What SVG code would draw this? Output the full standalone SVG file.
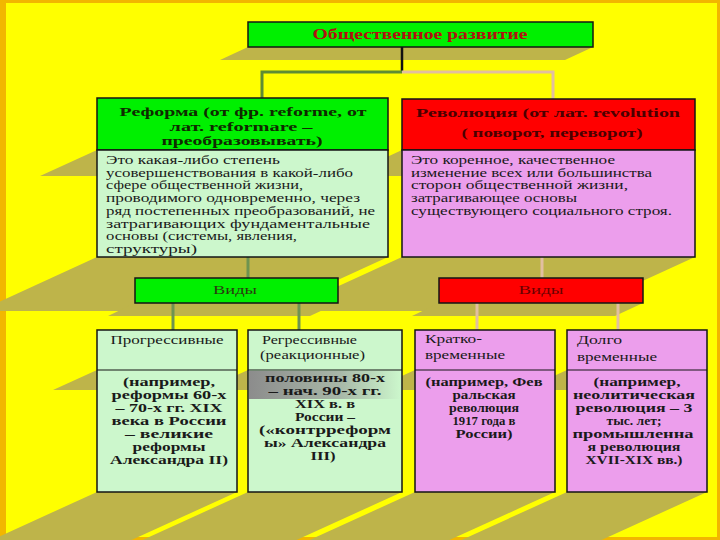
<svg xmlns="http://www.w3.org/2000/svg" width="720" height="540" viewBox="0 0 720 540">
<defs>
<style>
.sh{fill:#BEB44A}
.box{stroke:#151515;stroke-width:1.5}
.g{fill:#00F000}
.r{fill:#FF0000}
.mint{fill:#CCF7CC}
.pink{fill:#EC9EEC}
text{font-family:"Liberation Serif","Times New Roman",serif}
.hd{font-size:13px;font-weight:bold}
.ds{font-size:11.5px;fill:#1a1a1a}
.bd{font-size:11.5px;font-weight:bold;fill:#1a1a1a;text-anchor:middle}
.tp{font-size:12.5px;fill:#1a1a1a}
.cg{stroke:#5E8C34;stroke-width:3;fill:none}
.ct{stroke:#E2BFA0;stroke-width:3;fill:none}
</style>
<linearGradient id="gb" x1="0" y1="0" x2="1" y2="0">
<stop offset="0" stop-color="#8C8C8C"/>
<stop offset="0.6" stop-color="#A8B8A8"/>
<stop offset="1" stop-color="#CCF7CC"/>
</linearGradient>
</defs>
<rect x="0" y="0" width="720" height="540" fill="#FFFF00"/>
<rect x="0" y="0" width="720" height="3" fill="#F2B600"/>
<rect x="0" y="0" width="6" height="540" fill="#F2B600"/>
<rect x="717" y="0" width="3" height="540" fill="#F2B600"/>
<rect x="0" y="537" width="720" height="3" fill="#F2B600"/>

<g id="shadows">
<polygon class="sh" points="248,47 593,47 565,60 220,60"/>
<polygon class="sh" points="97,150 388,150 331,176 40,176"/>
<polygon class="sh" points="402,150 695,150 639,176 346,176"/>
<polygon class="sh" points="97,257 388,257 270,311 -21,311"/>
<polygon class="sh" points="402,257 695,257 577,311 284,311"/>
<polygon class="sh" points="135,303 338,303 310,316 108,316"/>
<polygon class="sh" points="439,303 643,303 615,316 412,316"/>
<polygon class="sh" points="97,370 237,370 193,390 53,390"/>
<polygon class="sh" points="248,370 402,370 358,390 204,390"/>
<polygon class="sh" points="415,370 555,370 511,390 371,390"/>
<polygon class="sh" points="567,370 707,370 663,390 523,390"/>
<polygon class="sh" points="97,492 237,492 103,553 -37,553"/>
<polygon class="sh" points="248,492 402,492 268,553 114,553"/>
<polygon class="sh" points="415,492 555,492 421,553 281,553"/>
<polygon class="sh" points="567,492 707,492 573,553 433,553"/>
</g>

<g id="connectors">
<line x1="402" y1="47" x2="402" y2="72" stroke="#111" stroke-width="2.5"/>
<polyline class="cg" points="402,72 262,72 262,98"/>
<polyline class="ct" points="402,72 553,72 553,99"/>
<line class="cg" x1="248" y1="257" x2="248" y2="278" style="stroke:#6E9450"/>
<line class="ct" x1="542" y1="257" x2="542" y2="278"/>
<line class="cg" x1="173" y1="303" x2="173" y2="330" style="stroke:#6E9450"/>
<line class="cg" x1="299" y1="303" x2="299" y2="330" style="stroke:#6E9450"/>
<line class="ct" x1="477" y1="303" x2="477" y2="330"/>
<line class="ct" x1="618" y1="303" x2="618" y2="330"/>
</g>

<g id="title">
<rect class="box g" x="248" y="22" width="345" height="25"/>
<text x="420" y="39" text-anchor="middle" font-size="14" font-weight="bold" fill="#B01010" textLength="215" lengthAdjust="spacingAndGlyphs">Общественное развитие</text>
</g>

<g id="reform">
<rect class="box g" x="97" y="98" width="291" height="52"/>
<text class="hd" fill="#0F2A00" text-anchor="middle" x="243" y="116" textLength="247" lengthAdjust="spacingAndGlyphs">Реформа (от фр. reforme, от</text>
<text class="hd" fill="#0F2A00" text-anchor="middle" x="241" y="130.5" textLength="143" lengthAdjust="spacingAndGlyphs">лат. reformare –</text>
<text class="hd" fill="#0F2A00" text-anchor="middle" x="242" y="145" textLength="161" lengthAdjust="spacingAndGlyphs">преобразовывать)</text>
</g>

<g id="reform-def">
<rect class="box mint" x="97" y="150" width="291" height="107"/>
<text class="ds" x="106" y="164" textLength="174" lengthAdjust="spacingAndGlyphs">Это какая-либо степень</text>
<text class="ds" x="106" y="176.7" textLength="247" lengthAdjust="spacingAndGlyphs">усовершенствования в какой-либо</text>
<text class="ds" x="106" y="189.4" textLength="197" lengthAdjust="spacingAndGlyphs">сфере общественной жизни,</text>
<text class="ds" x="106" y="202.1" textLength="254" lengthAdjust="spacingAndGlyphs">проводимого одновременно, через</text>
<text class="ds" x="106" y="214.8" textLength="269" lengthAdjust="spacingAndGlyphs">ряд постепенных преобразований, не</text>
<text class="ds" x="106" y="227.5" textLength="264" lengthAdjust="spacingAndGlyphs" font-size="10.5">затрагивающих фундаментальные</text>
<text class="ds" x="106" y="240.2" textLength="191" lengthAdjust="spacingAndGlyphs">основы (системы, явления,</text>
<text class="ds" x="106" y="252.9" textLength="91" lengthAdjust="spacingAndGlyphs">структуры)</text>
</g>

<g id="revolution">
<rect class="box r" x="402" y="99" width="293" height="51"/>
<text class="hd" fill="#4A0000" text-anchor="middle" x="548" y="117" textLength="264" lengthAdjust="spacingAndGlyphs">Революция (от лат. revolution</text>
<text class="hd" fill="#4A0000" text-anchor="middle" x="552" y="137" textLength="181" lengthAdjust="spacingAndGlyphs">( поворот, переворот)</text>
</g>

<g id="revolution-def">
<rect class="box pink" x="402" y="150" width="293" height="107"/>
<text class="ds" x="411" y="164" textLength="204" lengthAdjust="spacingAndGlyphs">Это коренное, качественное</text>
<text class="ds" x="411" y="176.7" textLength="241" lengthAdjust="spacingAndGlyphs">изменение всех или большинства</text>
<text class="ds" x="411" y="189.4" textLength="217" lengthAdjust="spacingAndGlyphs">сторон общественной жизни,</text>
<text class="ds" x="411" y="202.1" textLength="166" lengthAdjust="spacingAndGlyphs">затрагивающее основы</text>
<text class="ds" x="411" y="214.8" textLength="261" lengthAdjust="spacingAndGlyphs">существующего социального строя.</text>
</g>

<g id="reform-types">
<rect class="box g" x="135" y="278" width="203" height="25"/>
<text x="235" y="294" text-anchor="middle" font-size="13" fill="#2A3A10" textLength="44" lengthAdjust="spacingAndGlyphs">Виды</text>
</g>

<g id="revolution-types">
<rect class="box r" x="439" y="278" width="204" height="25"/>
<text x="541" y="294" text-anchor="middle" font-size="13" fill="#6A0000" textLength="45" lengthAdjust="spacingAndGlyphs">Виды</text>
</g>

<g id="progressive">
<rect class="box mint" x="97" y="330" width="140" height="162"/>
<line x1="97" y1="370" x2="237" y2="370" stroke="#151515" stroke-width="1.2"/>
<text class="tp" x="167" y="344" text-anchor="middle" textLength="113" lengthAdjust="spacingAndGlyphs">Прогрессивные</text>
<text class="bd" x="169" y="386" textLength="92" lengthAdjust="spacingAndGlyphs">(например,</text>
<text class="bd" x="169" y="399" textLength="115" lengthAdjust="spacingAndGlyphs">реформы 60-х</text>
<text class="bd" x="169" y="412" textLength="107" lengthAdjust="spacingAndGlyphs">– 70-х гг. XIX</text>
<text class="bd" x="169" y="425" textLength="115" lengthAdjust="spacingAndGlyphs" font-size="10.5">века в России</text>
<text class="bd" x="169" y="438" textLength="88" lengthAdjust="spacingAndGlyphs">– великие</text>
<text class="bd" x="169" y="451" textLength="73" lengthAdjust="spacingAndGlyphs">реформы</text>
<text class="bd" x="169" y="464" textLength="118" lengthAdjust="spacingAndGlyphs">Александра II)</text>
</g>

<g id="regressive">
<rect class="box mint" x="248" y="330" width="154" height="162"/>
<rect x="249" y="371" width="152" height="28" fill="url(#gb)"/>
<line x1="248" y1="370" x2="402" y2="370" stroke="#151515" stroke-width="1.2"/>
<text class="tp" x="262" y="344" textLength="95" lengthAdjust="spacingAndGlyphs">Регрессивные</text>
<text class="tp" x="260" y="359" textLength="105" lengthAdjust="spacingAndGlyphs">(реакционные)</text>
<text class="bd" x="325" y="382" textLength="120" lengthAdjust="spacingAndGlyphs">половины 80-х</text>
<text class="bd" x="325" y="395" textLength="113" lengthAdjust="spacingAndGlyphs">– нач. 90-х гг.</text>
<text class="bd" x="325" y="408" textLength="60" lengthAdjust="spacingAndGlyphs">XIX в. в</text>
<text class="bd" x="325" y="421" textLength="60" lengthAdjust="spacingAndGlyphs">России –</text>
<text class="bd" x="325" y="434" textLength="132" lengthAdjust="spacingAndGlyphs">(«контрреформ</text>
<text class="bd" x="325" y="447" textLength="122" lengthAdjust="spacingAndGlyphs">ы» Александра</text>
<text class="bd" x="323" y="460" textLength="25" lengthAdjust="spacingAndGlyphs">III)</text>
</g>

<g id="short-term">
<rect class="box pink" x="415" y="330" width="140" height="162"/>
<line x1="415" y1="370" x2="555" y2="370" stroke="#151515" stroke-width="1.2"/>
<text class="tp" x="425" y="343" textLength="57" lengthAdjust="spacingAndGlyphs">Кратко-</text>
<text class="tp" x="425" y="359" textLength="80" lengthAdjust="spacingAndGlyphs">временные</text>
<text class="bd" x="484" y="386" textLength="117" lengthAdjust="spacingAndGlyphs">(например, Фев</text>
<text class="bd" x="484" y="399" textLength="63" lengthAdjust="spacingAndGlyphs">ральская</text>
<text class="bd" x="484" y="412" textLength="70" lengthAdjust="spacingAndGlyphs">революция</text>
<text class="bd" x="484" y="425" textLength="63" lengthAdjust="spacingAndGlyphs">1917 года в</text>
<text class="bd" x="484" y="438" textLength="57" lengthAdjust="spacingAndGlyphs">России)</text>
</g>

<g id="long-term">
<rect class="box pink" x="567" y="330" width="140" height="162"/>
<line x1="567" y1="370" x2="707" y2="370" stroke="#151515" stroke-width="1.2"/>
<text class="tp" x="577" y="344" textLength="45" lengthAdjust="spacingAndGlyphs">Долго</text>
<text class="tp" x="577" y="361" textLength="80" lengthAdjust="spacingAndGlyphs">временные</text>
<text class="bd" x="637" y="386" textLength="87" lengthAdjust="spacingAndGlyphs">(например,</text>
<text class="bd" x="634" y="399" textLength="122" lengthAdjust="spacingAndGlyphs">неолитическая</text>
<text class="bd" x="634" y="412" textLength="117" lengthAdjust="spacingAndGlyphs">революция – 3</text>
<text class="bd" x="634" y="425" textLength="55" lengthAdjust="spacingAndGlyphs">тыс. лет;</text>
<text class="bd" x="633" y="438" textLength="121" lengthAdjust="spacingAndGlyphs">промышленна</text>
<text class="bd" x="634" y="451" textLength="93" lengthAdjust="spacingAndGlyphs">я революция</text>
<text class="bd" x="634" y="464" textLength="97" lengthAdjust="spacingAndGlyphs">XVII-XIX вв.)</text>
</g>
</svg>
